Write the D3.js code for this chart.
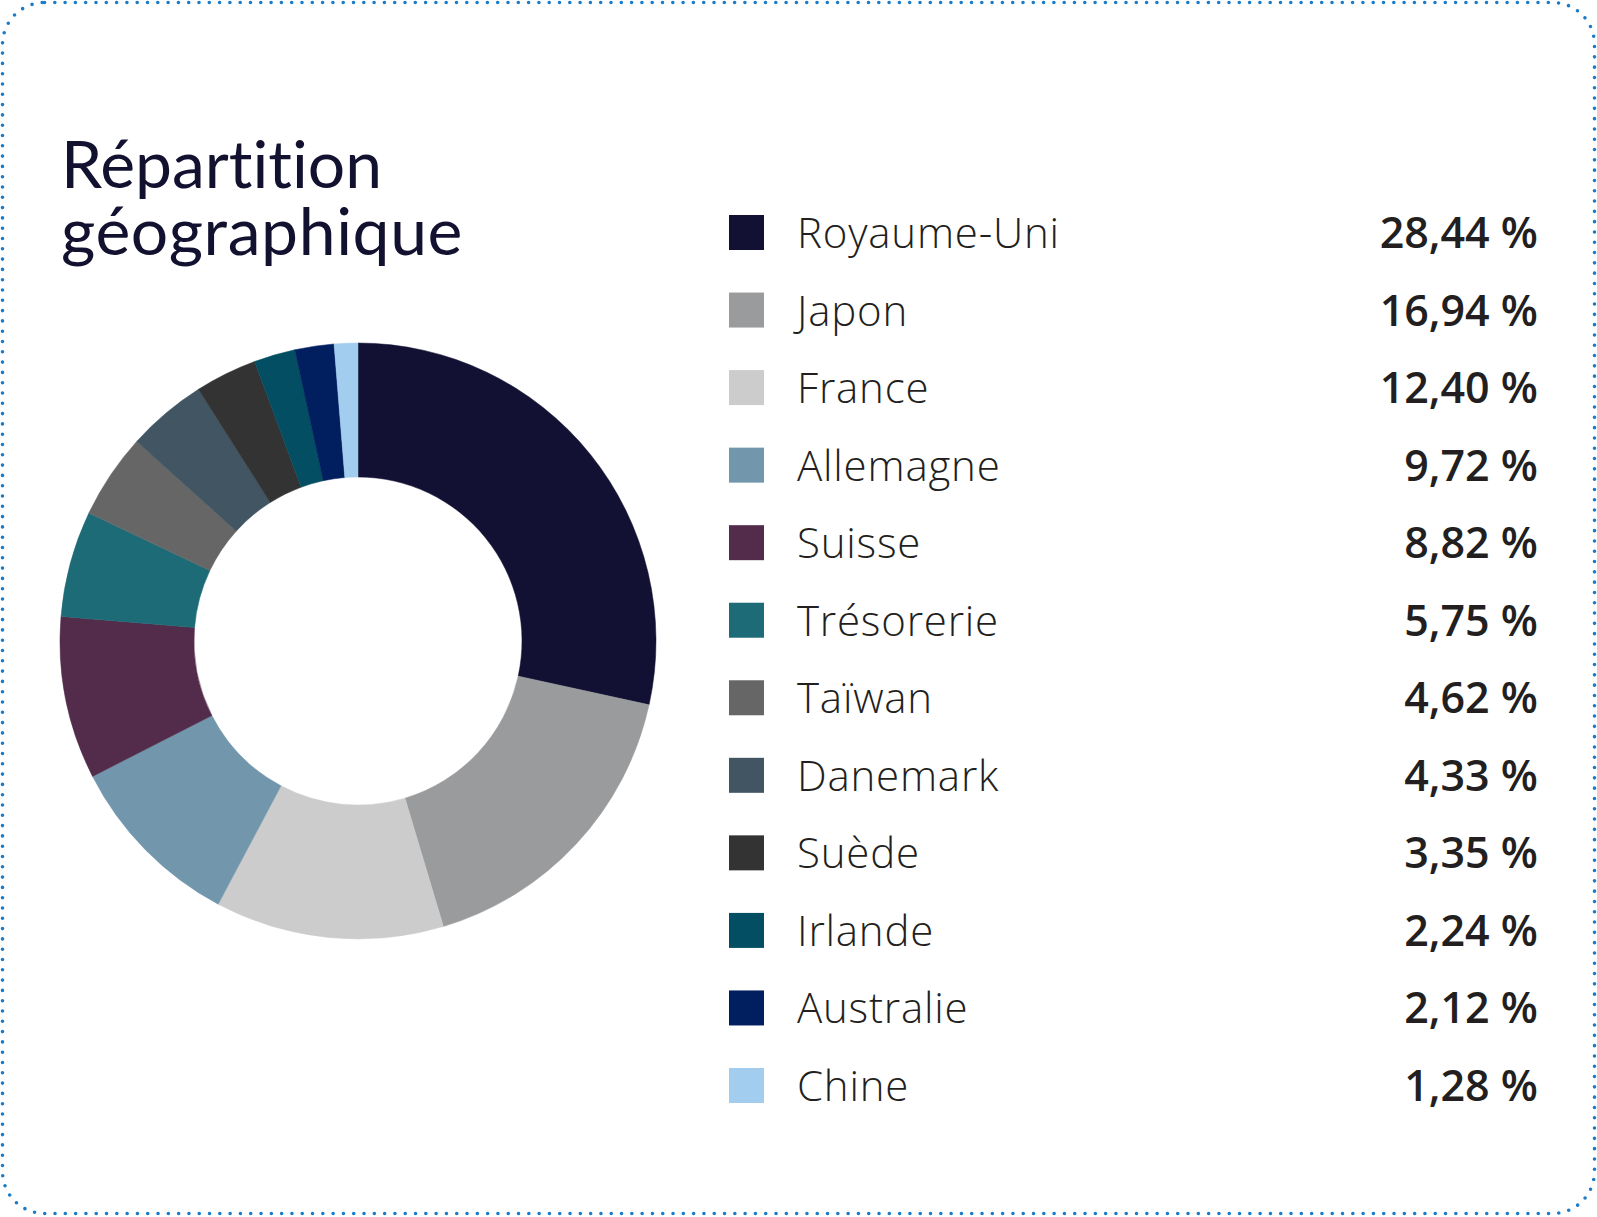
<!DOCTYPE html>
<html>
<head>
<meta charset="utf-8">
<script src="https://cdn.jsdelivr.net/npm/d3@7/dist/d3.min.js"></script>
<style>
html,body{margin:0;padding:0;background:#fff;}
svg{display:block;}
text{font-variant-ligatures:none;font-feature-settings:"liga" 0;}
</style>
</head>
<body>
<svg id="chart" width="1597" height="1217"></svg>
<script>
const titleLines = ["Répartition", "géographique"];
const categories = ["Royaume-Uni","Japon","France","Allemagne","Suisse","Trésorerie","Taïwan","Danemark","Suède","Irlande","Australie","Chine"];
const values = [28.44,16.94,12.40,9.72,8.82,5.75,4.62,4.33,3.35,2.24,2.12,1.28];
const colors = ["#121133","#9a9b9d","#cccccc","#7297ad","#522c4a","#1d6b76","#666666","#415563","#333333","#034e62","#011e5f","#a3cdee"];

const svg = d3.select("#chart");

// dotted rounded border
svg.append("rect")
  .attr("x", 2.5).attr("y", 2.5)
  .attr("width", 1592).attr("height", 1211)
  .attr("rx", 42).attr("ry", 42)
  .attr("fill", "none")
  .attr("stroke", "#1a7cc8")
  .attr("stroke-width", 3.6)
  .attr("stroke-linecap", "round")
  .attr("stroke-dasharray", "0 10.3");

// title
const title = svg.append("text")
  .attr("x", 61)
  .attr("font-family", "Lato, 'Noto Sans', sans-serif")
  .attr("font-size", 66)
  .attr("fill", "#12112f");
titleLines.forEach((t, i) => {
  title.append("tspan").attr("x", 61).attr("y", 188 + i * 67)
    .attr("letter-spacing", i === 1 ? 0.6 : 0).text(t);
});

// donut
const cx = 358, cy = 641, rOuter = 298, rInner = 164;
const pie = d3.pie().sort(null).value(d => d.value);
const arc = d3.arc().innerRadius(rInner).outerRadius(rOuter);
const data = categories.map((c, i) => ({name: c, value: values[i], color: colors[i]}));
svg.append("g")
  .attr("transform", `translate(${cx},${cy})`)
  .selectAll("path")
  .data(pie(data))
  .join("path")
  .attr("d", arc)
  .attr("fill", d => d.data.color)
  .attr("stroke", d => d.data.color)
  .attr("stroke-width", 0.5);

// legend
const fmt = v => v.toFixed(2).replace(".", ",") + " %";
const rowY = d3.scaleLinear().domain([0, categories.length - 1]).range([215, 1068]);
const leg = svg.append("g");
const rows = leg.selectAll("g").data(data).join("g")
  .attr("transform", (d, i) => `translate(0,${rowY(i)})`);
rows.append("rect")
  .attr("x", 729).attr("y", 0)
  .attr("width", 35).attr("height", 35)
  .attr("fill", d => d.color);
rows.append("text")
  .attr("x", 797).attr("y", 33)
  .attr("font-family", "'Open Sans', sans-serif")
  .attr("font-weight", 300)
  .attr("font-size", 42)
  .attr("letter-spacing", 0.8)
  .attr("fill", "#231f20")
  .text(d => d.name);
rows.append("text")
  .attr("x", 1538).attr("y", 33)
  .attr("text-anchor", "end")
  .attr("font-family", "'Open Sans', sans-serif")
  .attr("font-weight", 560)
  .attr("font-size", 43)
  .attr("fill", "#231f20")
  .text(d => fmt(d.value));
</script>
</body>
</html>
